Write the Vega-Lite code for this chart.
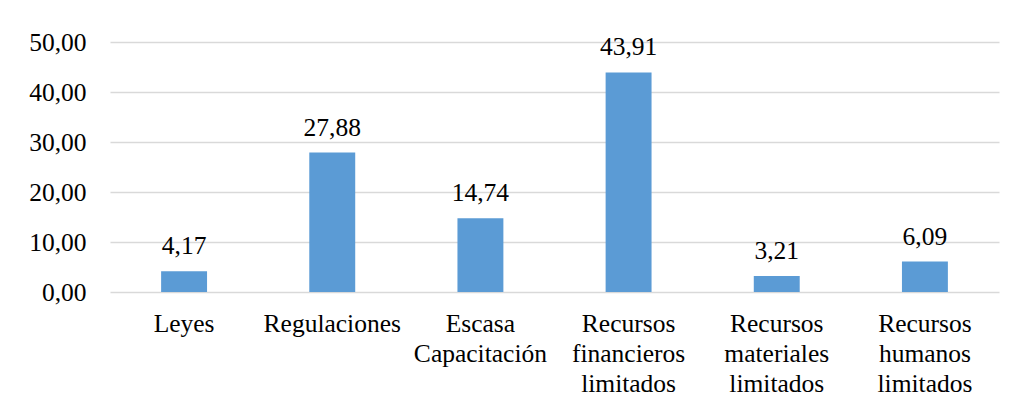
{
  "$schema": "https://vega.github.io/schema/vega-lite/v6.json",
  "autosize": {"type": "none"},
  "padding": {"left": 110, "top": 42, "right": 14, "bottom": 117},
  "width": 889,
  "height": 250,
  "background": "#ffffff",
  "config": {
    "locale": {"number": {"decimal": ",", "thousands": ".", "grouping": [3], "currency": ["", " €"]}},
    "view": {"stroke": null},
    "font": "Liberation Serif"
  },
  "data": {
    "values": [
      {"categoria": "Leyes", "valor": 4.17},
      {"categoria": "Regulaciones", "valor": 27.88},
      {"categoria": "Escasa\nCapacitación", "valor": 14.74},
      {"categoria": "Recursos\nfinancieros\nlimitados", "valor": 43.91},
      {"categoria": "Recursos\nmateriales\nlimitados", "valor": 3.21},
      {"categoria": "Recursos\nhumanos\nlimitados", "valor": 6.09}
    ]
  },
  "encoding": {
    "x": {
      "field": "categoria",
      "type": "nominal",
      "sort": null,
      "scale": {"paddingInner": 0.69, "paddingOuter": 0.345},
      "axis": {
        "title": null,
        "labelAngle": 0,
        "labelExpr": "split(datum.label, '\\n')",
        "labelFont": "Liberation Serif",
        "labelFontSize": 25.5,
        "labelLineHeight": 30,
        "labelColor": "#000000",
        "labelPadding": 19,
        "labelBaseline": "top",
        "ticks": false,
        "tickSize": 0,
        "domain": false,
        "grid": false
      }
    },
    "y": {
      "field": "valor",
      "type": "quantitative",
      "scale": {"domain": [0, 50]},
      "axis": {
        "title": null,
        "values": [0, 10, 20, 30, 40, 50],
        "format": ".2f",
        "labelFont": "Liberation Serif",
        "labelFontSize": 25.5,
        "labelColor": "#000000",
        "labelPadding": 24,
        "ticks": false,
        "tickSize": 0,
        "domain": false,
        "grid": true,
        "gridColor": "#d9d9d9",
        "gridWidth": 1.3
      }
    }
  },
  "layer": [
    {"mark": {"type": "bar", "color": "#5b9bd5"}},
    {
      "mark": {"type": "text", "baseline": "alphabetic", "dy": -17, "fontSize": 25.5, "font": "Liberation Serif", "color": "#000000"},
      "encoding": {"text": {"field": "valor", "type": "quantitative", "format": ".2f"}}
    }
  ]
}
